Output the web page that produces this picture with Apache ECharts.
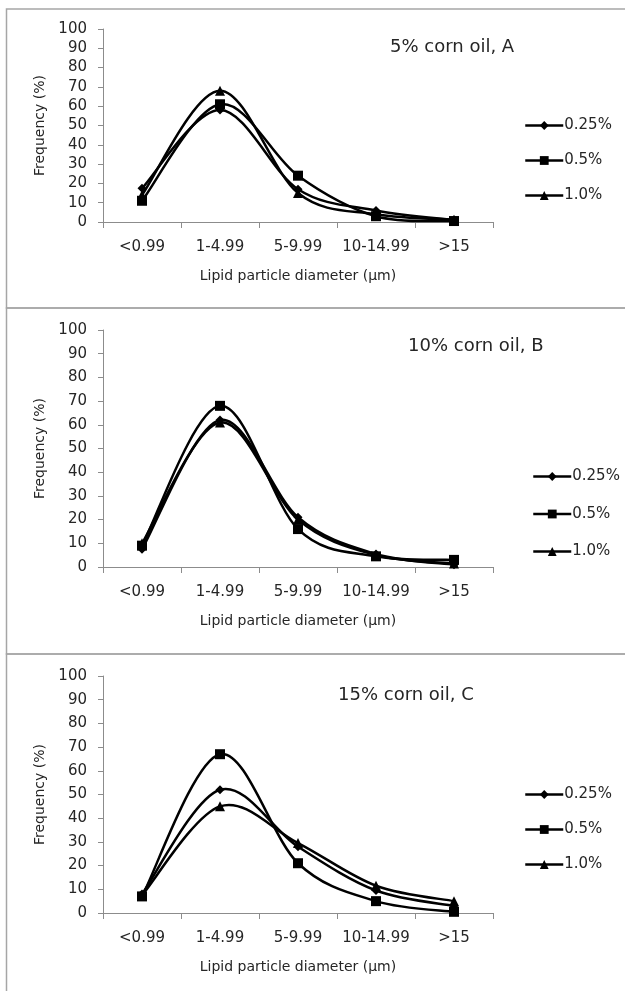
<!DOCTYPE html>
<html>
<head>
<meta charset="utf-8">
<script src="https://cdn.jsdelivr.net/npm/echarts@6/dist/echarts.min.js"></script>
<style>
  html, body { margin: 0; padding: 0; background: #fff; }
  #chart { width: 625px; height: 991px; }
</style>
</head>
<body>
<div id="chart"></div>
<script>
// particle size classes (x axis)
const categories = ['<0.99', '1-4.99', '5-9.99', '10-14.99', '>15'];
const seriesNames = ['0.25%', '0.5%', '1.0%'];
const yTicks = [0, 10, 20, 30, 40, 50, 60, 70, 80, 90, 100];

// frequency (%) per panel, one array per emulsifier level
const panelA025 = [17.5, 58, 17, 6, 1];
const panelA05 = [11, 61, 24, 3, 0.5];
const panelA10 = [14, 68, 15, 4, 1.2];

const panelB025 = [7.5, 62, 21, 5.5, 1];
const panelB05 = [9, 68, 16, 4.5, 3];
const panelB10 = [10, 61, 20, 5, 1.5];

const panelC025 = [8, 52, 28, 9.5, 3];
const panelC05 = [7, 67, 21, 5, 0.5];
const panelC10 = [7.5, 45, 29.5, 11.5, 5];

const panelTitles = ['5% corn oil, A', '10% corn oil, B', '15% corn oil, C'];

const FONT = '"DejaVu Sans", sans-serif';
const TEXT = '#262626';
const AXIS = '#8c8c8c';
const LINE_W = 2.5;

// panel layout (px)
const panels = [
  {
    box: [9, 308], gridTop: 29, gridH: 193,
    title: [390, 38], legend: [524, 118, 20],
    data: [panelA025, panelA05, panelA10],
  },
  {
    box: [308, 654], gridTop: 330, gridH: 237,
    title: [408, 337], legend: [532, 469, 22.5],
    data: [panelB025, panelB05, panelB10],
  },
  {
    box: [654, 1000], gridTop: 676, gridH: 237,
    title: [338, 686], legend: [524, 787, 20],
    data: [panelC025, panelC05, panelC10],
  },
];

const symbols = ['diamond', 'rect', 'triangle'];
const symbolSizes = [9, 10, 10];

/**
 * Excel-like smoothed line: one cubic bezier per segment,
 * control points from the neighbouring points (Catmull-Rom).
 */
function smoothSegment(values) {
  const last = values.length - 1;
  return (params, api) => {
    const i = params.dataIndex;
    if (i >= last) return null;
    const pt = (j) => {
      const k = Math.max(0, Math.min(last, j));
      return api.coord([k, values[k]]);
    };
    const p0 = pt(i - 1);
    const p1 = pt(i);
    const p2 = pt(i + 1);
    const p3 = pt(i + 2);
    const t = 1 / 6;
    return {
      type: 'bezierCurve',
      shape: {
        x1: p1[0],
        y1: p1[1],
        x2: p2[0],
        y2: p2[1],
        cpx1: p1[0] + (p2[0] - p0[0]) * t,
        cpy1: p1[1] + (p2[1] - p0[1]) * t,
        cpx2: p2[0] - (p3[0] - p1[0]) * t,
        cpy2: p2[1] - (p3[1] - p1[1]) * t,
      },
      style: { fill: 'none', stroke: '#000', lineWidth: LINE_W },
    };
  };
}

const chart = echarts.init(document.getElementById('chart'), null, { renderer: 'canvas' });

const option = {
  animation: false,
  backgroundColor: '#fff',
  textStyle: { fontFamily: FONT, color: TEXT },
  title: [],
  legend: [],
  grid: [],
  xAxis: [],
  yAxis: [],
  series: [],
  graphic: [],
};

panels.forEach((p, i) => {
  // frame around each panel
  option.graphic.push({
    type: 'rect',
    shape: { x: 6.5, y: p.box[0], width: 640, height: p.box[1] - p.box[0] },
    style: { fill: 'none', stroke: '#a6a6a6', lineWidth: 1.5 },
    silent: true,
  });

  option.title.push({
    text: panelTitles[i],
    left: p.title[0],
    top: p.title[1],
    padding: 0,
    textStyle: {
      fontFamily: FONT, fontSize: 18, fontWeight: 'normal', color: TEXT,
    },
  });

  option.legend.push({
    orient: 'vertical',
    left: p.legend[0],
    top: p.legend[1],
    itemGap: p.legend[2],
    itemWidth: 38,
    itemHeight: 11,
    padding: 0,
    data: seriesNames,
    selectedMode: false,
    lineStyle: { color: '#000', width: LINE_W, opacity: 1 },
    textStyle: { fontFamily: FONT, fontSize: 15, color: TEXT, padding: [0, 0, 0, -4] },
  });

  option.grid.push({
    left: 103, width: 390, top: p.gridTop, height: p.gridH,
  });

  option.xAxis.push({
    type: 'category',
    gridIndex: i,
    data: categories,
    boundaryGap: true,
    name: 'Lipid particle diameter (µm)',
    nameLocation: 'middle',
    nameGap: 47,
    nameTextStyle: { fontFamily: FONT, fontSize: 14, color: TEXT },
    axisLine: { lineStyle: { color: AXIS, width: 1 } },
    axisTick: { show: true, length: 6, lineStyle: { color: AXIS } },
    axisLabel: {
      fontFamily: FONT, fontSize: 15, color: TEXT, margin: 18, interval: 0,
    },
    splitLine: { show: false },
  });

  option.yAxis.push({
    type: 'value',
    gridIndex: i,
    min: yTicks[0],
    max: yTicks[yTicks.length - 1],
    interval: 10,
    name: 'Frequency (%)',
    nameLocation: 'middle',
    nameGap: 52,
    nameTextStyle: { fontFamily: FONT, fontSize: 14, color: TEXT },
    axisLine: { show: true, lineStyle: { color: AXIS, width: 1 } },
    axisTick: { show: true, length: 5, lineStyle: { color: AXIS } },
    axisLabel: {
      fontFamily: FONT, fontSize: 15, color: TEXT, margin: 16,
    },
    splitLine: { show: false },
  });

  p.data.forEach((values, k) => {
    // the smoothed curve
    option.series.push({
      type: 'custom',
      xAxisIndex: i,
      yAxisIndex: i,
      data: values.map((v, j) => [j, v]),
      encode: { x: 0, y: 1 },
      renderItem: smoothSegment(values),
      clip: false,
      silent: true,
      z: 2,
    });
    // markers (line hidden, drives the legend)
    option.series.push({
      type: 'line',
      name: seriesNames[k],
      xAxisIndex: i,
      yAxisIndex: i,
      data: values,
      symbol: symbols[k],
      symbolSize: symbolSizes[k],
      showAllSymbol: true,
      lineStyle: { color: '#000', width: LINE_W, opacity: 0 },
      itemStyle: { color: '#000' },
      z: 5 - k,
    });
  });
});

chart.setOption(option);
</script>
</body>
</html>
